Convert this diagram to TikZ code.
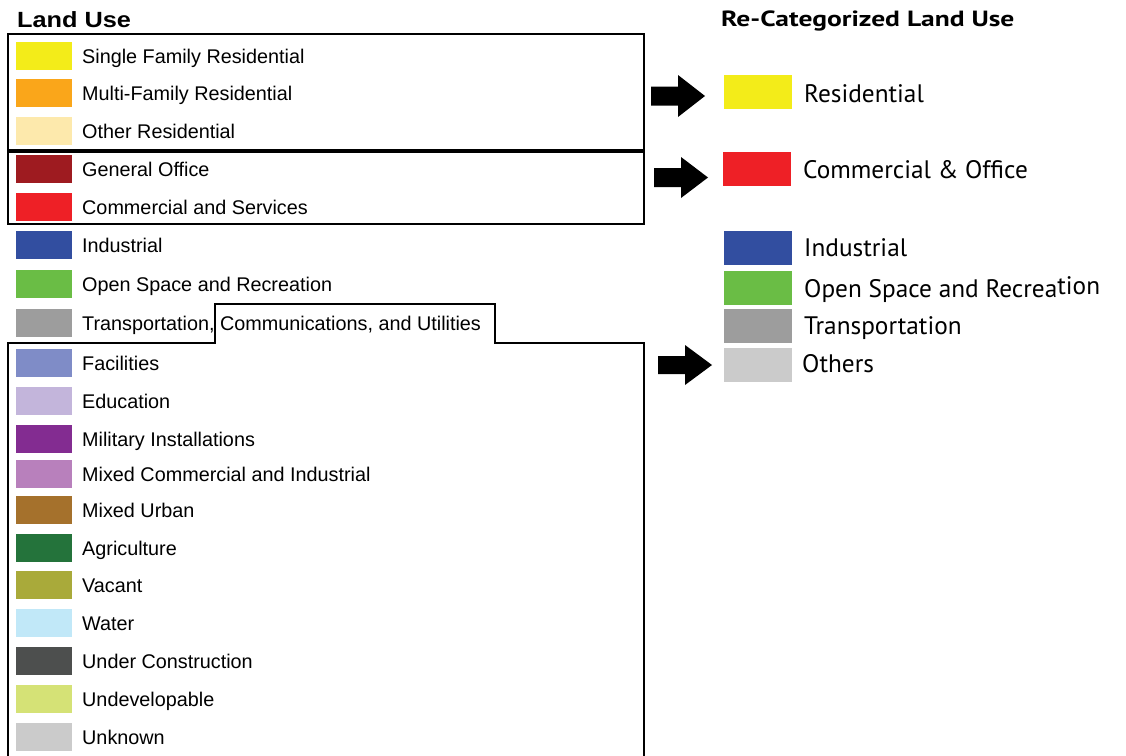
\documentclass[tikz,border=0pt]{standalone}
\usepackage{fontspec}
\setmainfont{Liberation Sans}
\newfontfamily\rfont{PT Sans}
\usetikzlibrary{calc}
\definecolor{cSF}{RGB}{243,236,25}
\definecolor{cMF}{RGB}{250,166,26}
\definecolor{cOR}{RGB}{253,233,172}
\definecolor{cGO}{RGB}{158,27,32}
\definecolor{cCS}{RGB}{238,32,38}
\definecolor{cIN}{RGB}{50,78,160}
\definecolor{cOS}{RGB}{106,189,69}
\definecolor{cTR}{RGB}{157,157,157}
\definecolor{cFA}{RGB}{127,140,199}
\definecolor{cED}{RGB}{195,181,219}
\definecolor{cMI}{RGB}{131,44,145}
\definecolor{cMC}{RGB}{184,128,188}
\definecolor{cMU}{RGB}{165,113,44}
\definecolor{cAG}{RGB}{36,115,59}
\definecolor{cVA}{RGB}{169,170,58}
\definecolor{cWA}{RGB}{193,232,248}
\definecolor{cUC}{RGB}{77,79,78}
\definecolor{cUD}{RGB}{213,226,118}
\definecolor{cUK}{RGB}{203,203,203}
\tikzset{
  lswatch/.style={fill=#1, draw=none, minimum width=56pt, minimum height=28pt, inner sep=0pt, outer sep=0pt, anchor=west},
  rswatch/.style={fill=#1, draw=none, minimum width=68pt, minimum height=34pt, inner sep=0pt, outer sep=0pt, anchor=west},
  llabel/.style={anchor=base west, inner sep=0pt, font=\fontsize{19.8}{24}\selectfont},
  rlabel/.style={anchor=base west, inner sep=0pt, font=\rfont\fontsize{25.3}{28}\selectfont},
  ttl/.style={anchor=base west, inner sep=0pt, font=\bfseries\fontsize{22}{26}\selectfont},
  groupbox/.style={draw=black, line width=1.8pt},
  blockarrow/.style={fill=black, draw=none}
}
\newcommand\LUrow[4]{%
  \node[lswatch=#2] (#1s) at (16,#3) {};
  \node[llabel] (#1t) at (82,#3+7.5) {#4};
}
\begin{document}
\begin{tikzpicture}[x=1pt,y=-1pt]
\useasboundingbox (0,0) rectangle (1126,755);
\node[ttl] (title1) at (17,27) {\scalebox{1.15}[1]{Land Use}};
\node[ttl] (title2) at (721,26) {\rfont\bfseries\scalebox{1.25}[1]{Re-Categorized Land Use}};
% group boxes
\draw[groupbox] (8,34) rectangle (644,150);
\draw[groupbox] (8,152) rectangle (644,224);
\draw[groupbox] (8,757) -- (8,343) -- (215,343) -- (215,304) -- (495,304) -- (495,343) -- (644,343) -- (644,757);
% left legend
\LUrow{sf}{cSF}{55.5}{Single Family Residential}
\LUrow{mf}{cMF}{93}{Multi-Family Residential}
\LUrow{or}{cOR}{131}{Other Residential}
\LUrow{go}{cGO}{169}{General Office}
\LUrow{cs}{cCS}{207}{Commercial and Services}
\LUrow{in}{cIN}{245}{Industrial}
\LUrow{os}{cOS}{284}{Open Space and Recreation}
\LUrow{tr}{cTR}{323}{Transportation, Communications, and Utilities}
\LUrow{fa}{cFA}{363}{Facilities}
\LUrow{ed}{cED}{401}{Education}
\LUrow{mi}{cMI}{439}{Military Installations}
\LUrow{mc}{cMC}{474}{Mixed Commercial and Industrial}
\LUrow{mu}{cMU}{510}{Mixed Urban}
\LUrow{ag}{cAG}{548}{Agriculture}
\LUrow{va}{cVA}{585}{Vacant}
\LUrow{wa}{cWA}{623}{Water}
\LUrow{uc}{cUC}{661}{Under Construction}
\LUrow{ud}{cUD}{699}{Undevelopable}
\LUrow{uk}{cUK}{737}{Unknown}
% arrows
\fill[blockarrow] (651,86.5) -- (678,86.5) -- (678,75) -- (705,96) -- (678,117) -- (678,105.5) -- (651,105.5) -- cycle;
\fill[blockarrow] (654,168) -- (681,168) -- (681,157) -- (708,177.5) -- (681,198) -- (681,187) -- (654,187) -- cycle;
\fill[blockarrow] (658,356) -- (685,356) -- (685,345) -- (712,365) -- (685,385) -- (685,374) -- (658,374) -- cycle;
% right legend
\node[rswatch=cSF] (rres) at (724,92) {};
\node[rlabel] (rrest) at (804,102) {Residential};
\node[rswatch=cCS] (rcom) at (723,169) {};
\node[rlabel] (rcomt) at (803,178) {Commercial \& Office};
\node[rswatch=cIN] (rind) at (724,247.5) {};
\node[rlabel] (rindt) at (804,256) {Industrial};
\node[rswatch=cOS] (ros) at (724,287.5) {};
\node[rlabel] (rost) at (804,297) {Open Space and Recrea\raisebox{3pt}{tion}};
\node[rswatch=cTR] (rtr) at (724,325.5) {};
\node[rlabel] (rtrt) at (804,334) {Transportation};
\node[rswatch=cUK] (rot) at (724,365) {};
\node[rlabel] (rott) at (802,372) {Others};
\end{tikzpicture}
\end{document}
